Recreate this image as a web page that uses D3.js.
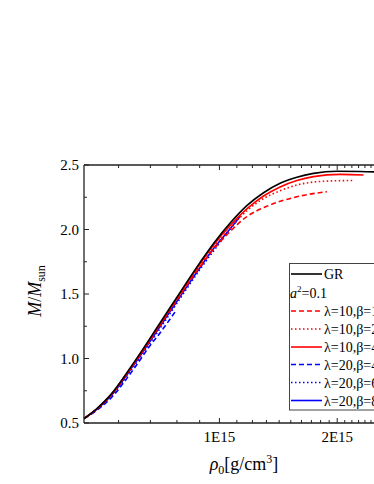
<!DOCTYPE html>
<html>
<head>
<meta charset="utf-8">
<script src="https://cdn.jsdelivr.net/npm/d3@7"></script>
<style>
  body { margin: 0; background: #fff; }
  svg { display: block; overflow: hidden; }
  text { font-family: "Liberation Serif", "Times New Roman", serif; fill: #000; }
</style>
</head>
<body>
<svg id="chart" width="374" height="484"></svg>
<script>
// x in units of 1E15 g/cm^3, y in M/Msun
const grRho   = [0.511, 0.542, 0.576, 0.644, 0.735, 0.813, 0.902, 0.968, 1.060, 1.163, 1.276, 1.408, 1.556, 1.722, 1.996, 2.325, 3.000];
const grM     = [0.535, 0.612, 0.712, 0.962, 1.277, 1.513, 1.745, 1.890, 2.050, 2.185, 2.283, 2.358, 2.405, 2.435, 2.452, 2.450, 2.440];

const l10b10Rho = [0.511, 0.542, 0.576, 0.644, 0.735, 0.813, 0.902, 0.968, 1.060, 1.163, 1.303, 1.556, 1.873];
const l10b10M   = [0.535, 0.608, 0.705, 0.950, 1.258, 1.490, 1.712, 1.845, 1.985, 2.100, 2.180, 2.254, 2.293];

const l10b20Rho = [0.511, 0.542, 0.576, 0.644, 0.735, 0.813, 0.902, 0.968, 1.060, 1.163, 1.276, 1.408, 1.556, 1.722, 1.996, 2.224];
const l10b20M   = [0.535, 0.609, 0.707, 0.952, 1.262, 1.495, 1.722, 1.862, 2.010, 2.145, 2.238, 2.300, 2.345, 2.368, 2.378, 2.380];

const l10b40Rho = [0.511, 0.542, 0.576, 0.644, 0.735, 0.813, 0.902, 0.968, 1.060, 1.163, 1.276, 1.408, 1.556, 1.722, 2.039, 2.377];
const l10b40M   = [0.535, 0.610, 0.709, 0.956, 1.268, 1.503, 1.735, 1.878, 2.032, 2.160, 2.258, 2.330, 2.380, 2.410, 2.427, 2.422];

const l20b40Rho = [0.511, 0.542, 0.576, 0.644, 0.699, 0.735, 0.792];
const l20b40M   = [0.535, 0.600, 0.685, 0.915, 1.100, 1.200, 1.360];

const l20b60Rho = [0.511, 0.542, 0.576, 0.644, 0.735, 0.813, 0.902, 0.968, 1.096];
const l20b60M   = [0.535, 0.604, 0.695, 0.935, 1.235, 1.465, 1.692, 1.832, 2.060];

const l20b80Rho = [0.511, 0.542, 0.576, 0.644, 0.735, 0.813, 0.902, 0.968, 1.060, 1.120];
const l20b80M   = [0.535, 0.607, 0.702, 0.945, 1.250, 1.480, 1.705, 1.850, 2.005, 2.100];

const xMajorTicks = [1, 2];
const xTickLabels = ["1E15", "2E15"];
const xMinorTicks = [0.6, 0.7, 0.8, 0.9, 1.1, 1.2, 1.3, 1.4, 1.5, 1.6, 1.7, 1.8, 1.9, 2.1, 2.2, 2.3, 2.4, 2.5, 2.6, 2.7, 2.8, 2.9, 3.0];
const yMajorTicks = [0.5, 1.0, 1.5, 2.0, 2.5];
const yMinorTicks = [0.75, 1.25, 1.75, 2.25];

const seriesNames = ["GR", "λ=10,β=10", "λ=10,β=20", "λ=10,β=40", "λ=20,β=40", "λ=20,β=60", "λ=20,β=80"];
const seriesColors = ["#000000", "#ff0000", "#ff0000", "#ff0000", "#0000ff", "#0000ff", "#0000ff"];
const seriesDash = [null, "5,3", "1.5,2.5", null, "5,3", "1.5,2.5", null];

const series = [
  [grRho, grM], [l10b10Rho, l10b10M], [l10b20Rho, l10b20M], [l10b40Rho, l10b40M],
  [l20b40Rho, l20b40M], [l20b60Rho, l20b60M], [l20b80Rho, l20b80M]
];

(function () {
const svg = d3.select("#chart");
const pL = 84, pR = 400, pT = 165, pB = 423;

const x = d3.scalePow().exponent(-0.25).domain([0.5107, 3.06]).range([pL, pR]);
const y = d3.scaleLinear().domain([0.5, 2.5]).range([pB, pT]);

// curves
const line = d3.line().x(d => x(d[0])).y(d => y(d[1])).curve(d3.curveMonotoneX);
const plotOrder = [4, 5, 6, 1, 2, 3, 0];
plotOrder.forEach(i => {
  const [rx, ry] = series[i];
  const pts = rx.map((v, k) => [v, ry[k]]);
  svg.append("path")
    .attr("d", line(pts))
    .attr("fill", "none")
    .attr("stroke", seriesColors[i])
    .attr("stroke-width", 1.6)
    .attr("stroke-dasharray", seriesDash[i]);
});

// axes frame
const axisColor = "#222";
const frame = svg.append("g").attr("stroke", axisColor).attr("stroke-width", 1.3).attr("fill", "none");
frame.append("line").attr("x1", pL).attr("x2", pR + 10).attr("y1", pT).attr("y2", pT);
frame.append("line").attr("x1", pL).attr("x2", pR + 10).attr("y1", pB).attr("y2", pB);
frame.append("line").attr("x1", pL).attr("x2", pL).attr("y1", pT).attr("y2", pB);

// ticks (inward)
const tg = svg.append("g").attr("stroke", axisColor).attr("stroke-width", 1);
xMajorTicks.forEach(v => {
  tg.append("line").attr("x1", x(v)).attr("x2", x(v)).attr("y1", pB).attr("y2", pB - 5);
  tg.append("line").attr("x1", x(v)).attr("x2", x(v)).attr("y1", pT).attr("y2", pT + 5);
});
xMinorTicks.forEach(v => {
  tg.append("line").attr("x1", x(v)).attr("x2", x(v)).attr("y1", pB).attr("y2", pB - 3);
  tg.append("line").attr("x1", x(v)).attr("x2", x(v)).attr("y1", pT).attr("y2", pT + 3);
});
yMajorTicks.forEach(v => {
  tg.append("line").attr("x1", pL).attr("x2", pL + 5).attr("y1", y(v)).attr("y2", y(v));
});
yMinorTicks.forEach(v => {
  tg.append("line").attr("x1", pL).attr("x2", pL + 3).attr("y1", y(v)).attr("y2", y(v));
});

// tick labels
xMajorTicks.forEach((v, i) => {
  svg.append("text").attr("x", x(v)).attr("y", pB + 19)
    .attr("text-anchor", "middle").attr("font-size", 15).text(xTickLabels[i]);
});
yMajorTicks.forEach(v => {
  svg.append("text").attr("x", pL - 5).attr("y", y(v) + 5)
    .attr("text-anchor", "end").attr("font-size", 15).text(d3.format(".1f")(v));
});

// axis titles
const yt = svg.append("text").attr("transform", "translate(41,291) rotate(-90)")
  .attr("text-anchor", "middle").attr("font-size", 18);
yt.append("tspan").attr("font-style", "italic").text("M");
yt.append("tspan").text("/");
yt.append("tspan").attr("font-style", "italic").text("M");
yt.append("tspan").attr("font-size", 12).attr("dy", 4).text("sun");

const xt = svg.append("text").attr("x", 244).attr("y", 470)
  .attr("text-anchor", "middle").attr("font-size", 18);
xt.append("tspan").attr("font-style", "italic").text("ρ");
xt.append("tspan").attr("font-size", 12).attr("dy", 4).text("0");
xt.append("tspan").attr("dy", -4).text("[g/cm");
xt.append("tspan").attr("font-size", 12).attr("dy", -7).text("3");
xt.append("tspan").attr("dy", 7).text("]");

// legend
const lg = svg.append("g");
lg.append("rect").attr("x", 289.5).attr("y", 263.5).attr("width", 120).attr("height", 146.5)
  .attr("fill", "#fff").attr("stroke", "#444").attr("stroke-width", 1);
const rowY = [274, 311, 329, 347, 364.5, 382.5, 400.5];
seriesNames.forEach((name, i) => {
  const yy = rowY[i];
  lg.append("line").attr("x1", 291).attr("x2", 322).attr("y1", yy).attr("y2", yy)
    .attr("stroke", seriesColors[i]).attr("stroke-width", 1.6)
    .attr("stroke-dasharray", seriesDash[i]);
  lg.append("text").attr("x", 324).attr("y", yy + 5).attr("font-size", 14).text(name);
});
const at = lg.append("text").attr("x", 290).attr("y", 298).attr("font-size", 14);
at.append("tspan").attr("font-style", "italic").text("a");
at.append("tspan").attr("font-size", 9).attr("dy", -6).text("2");
at.append("tspan").attr("dy", 6).text("=0.1");
})();
</script>
</body>
</html>
